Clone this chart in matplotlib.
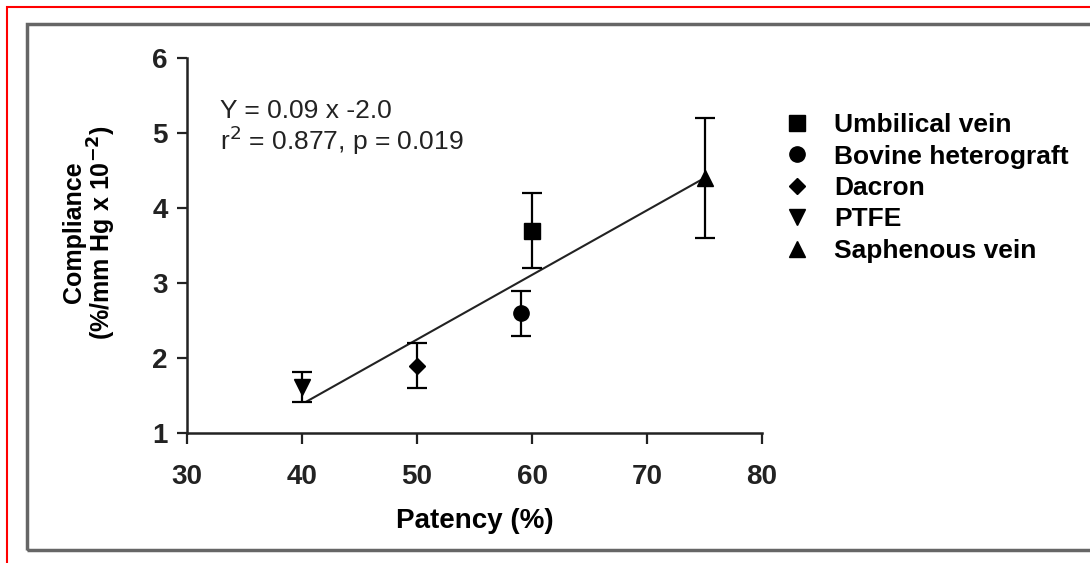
import matplotlib.pyplot as plt
from matplotlib.patches import Rectangle
from matplotlib.lines import Line2D

plt.rcParams['font.family'] = ['Liberation Sans', 'DejaVu Sans']

# graft types, values
grafts = ['Umbilical vein', 'Bovine heterograft', 'Dacron', 'PTFE', 'Saphenous vein']
patency = [60, 59, 50, 40, 75]
compliance = [3.7, 2.6, 1.9, 1.62, 4.4]
comp_err = [0.5, 0.3, 0.3, 0.2, 0.8]
markers = ['s', 'o', 'D', 'v', '^']
msizes = [11, 11, 8, 11, 11]

# regression line as drawn
fit_x = [40.4, 75]
fit_y = [1.42, 4.40]

x_ticks = [30, 40, 50, 60, 70, 80]
y_ticks = [1, 2, 3, 4, 5, 6]

fig = plt.figure(figsize=(10.9, 5.63), dpi=100)

# outer red border and grey frame (figure pixels)
fig.add_artist(Rectangle((7 / 1090, -0.1), 1.2, (563 - 7) / 563 + 0.1,
                         transform=fig.transFigure, fill=False,
                         edgecolor='red', linewidth=1.5))
fig.add_artist(Rectangle((27 / 1090, 1 - 550 / 563), 1.2, (550 - 24) / 563,
                         transform=fig.transFigure, fill=False,
                         edgecolor='#666666', linewidth=2.5))

ax = fig.add_axes([187 / 1090, 1 - 433 / 563, (762 - 187) / 1090, (433 - 58) / 563])

for x, y, e, m, ms in zip(patency, compliance, comp_err, markers, msizes):
    ax.errorbar(x, y, yerr=e, fmt=m, color='black', markersize=ms,
                elinewidth=1.6, capsize=7, capthick=1.6, zorder=3)

ax.plot(fit_x, fit_y, color='#222222', linewidth=1.5, zorder=2)

ax.set_xlim(30, 80)
ax.set_ylim(1, 6)
ax.set_xticks(x_ticks)
ax.set_yticks(y_ticks)
ax.spines['top'].set_visible(False)
ax.spines['right'].set_visible(False)
for s in ['left', 'bottom']:
    ax.spines[s].set_linewidth(1.8)
    ax.spines[s].set_color('#222222')
ax.tick_params(axis='x', direction='out', length=8, width=1.6, pad=14,
               labelsize=20, colors='#222222')
ax.tick_params(axis='y', direction='out', length=7, width=1.6, pad=7,
               labelsize=20, colors='#222222')
for lbl in ax.get_xticklabels() + ax.get_yticklabels():
    lbl.set_fontweight('bold')

ax.set_xlabel('Patency (%)', fontsize=20, fontweight='bold', labelpad=13)
ax.set_ylabel('Compliance\n(%/mm Hg x 10$^{\\mathbf{-2}}$)', fontsize=18,
              fontweight='bold', linespacing=1.0)
ax.yaxis.set_label_coords(-0.12, 0.535)

ax.text(0.058, 0.86, 'Y = 0.09 x -2.0', transform=ax.transAxes,
        fontsize=19, va='center', ha='left', color='#222222')
ax.text(0.058, 0.78, 'r$^2$ = 0.877, p = 0.019', transform=ax.transAxes,
        fontsize=19, va='center', ha='left', color='#222222')

handles = [Line2D([], [], marker=m, color='black', linestyle='none',
                  markersize=ms) for m, ms in zip(markers, msizes)]
fig.legend(handles, grafts, loc='upper left',
           bbox_to_anchor=(771 / 1090, 1 - 100 / 563), frameon=False,
           prop={'size': 19, 'weight': 'bold'}, handlelength=1.0,
           handletextpad=0.9, labelspacing=0.28, borderpad=0)

fig.savefig('out.png', dpi=100)
